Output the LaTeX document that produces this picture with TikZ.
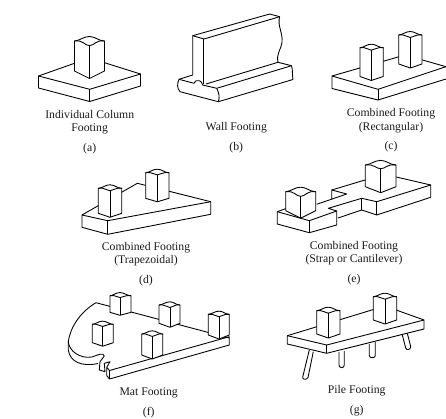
\documentclass[tikz,border=0pt]{standalone}
\usepackage{fontspec}
\setmainfont{Liberation Serif}
\usetikzlibrary{positioning}
\definecolor{figink}{HTML}{1a1a1a}
\newcommand{\pillar}[6]{% left, mid, right, top, bottom, dip
  \pgfmathsetmacro{\pw}{#3-#1}
  \pgfmathsetmacro{\pdip}{.62*#6}
  \filldraw[edge,fill=white] (#1,#4)
    .. controls ({#1+.2*\pw},{#4-.02*\pw}) and ({#2-.2*\pw},{#4-.15*\pw}) .. (#2,{#4-.15*\pw})
    .. controls ({#2+.2*\pw},{#4-.15*\pw}) and ({#3-.2*\pw},#4) .. (#3,#4)
    -- (#3,#5) -- (#2,{#5+#6}) -- (#1,#5) -- cycle;
  \draw[edge] (#1,#4)
    .. controls ({#1+.3*\pw},{#4-.04*\pw}) and ({#2-.16*\pw},{#4+\pdip}) .. (#2,{#4+\pdip})
    .. controls ({#2+.16*\pw},{#4+\pdip}) and ({#3-.3*\pw},{#4-.04*\pw}) .. (#3,#4);
  \draw[edge] (#2,{#4+\pdip}) -- (#2,{#5+#6});
}
\begin{document}
\begin{tikzpicture}[
  x=0.03cm, y=-0.03cm,
  edge/.style={draw=black, line width=0.75pt, line join=round},
  caption/.style={text=figink, font=\fontsize{10}{11.2}\selectfont, align=center, inner sep=0},
  tag/.style={caption, below=7.5pt}
]
\useasboundingbox (0,0) rectangle (446,419);

% (a) individual column
\draw[edge] (38.5,76) -- (89.5,58) -- (140.5,74) -- (140.5,86) -- (89.7,101.5) -- (38.5,88) -- cycle;
\draw[edge] (38.5,76) -- (89.7,89.3) -- (140.5,74);
\draw[edge] (89.7,89.3) -- (89.7,101.5);
\pillar{74.5}{89.5}{104.5}{41}{71}{7.5}
\node[caption] (capa) at (89.7,122.5) {Individual Column\\Footing};
\node[tag] (taga) at (capa.south) {(a)};

% (b) wall
\draw[edge] (192.7,75) -- (192.7,35.7) -- (269.7,14) -- (279.7,16.7);
\draw[edge] (192.7,35.7) -- (204,39) -- (279.7,16.7);
\draw[edge] (203.5,39) -- (203.5,84);
\draw[edge] (279.7,16.7) .. controls (277,25) and (283,33) .. (282,42) .. controls (281,50) and (276,54) .. (278,62.3) -- (291.5,65.7);
\draw[edge] (206,84) -- (278,62.3);
\draw[edge] (179,79.3) -- (192.7,75);
\draw[edge] (179,79.3) .. controls (177,84) and (177,88) .. (180,91.7) -- (218.3,101.7) -- (293,79.5);
\draw[edge] (179,79.3) -- (194,83.3) .. controls (195,81) and (196,80.7) .. (197,80.7) -- (199.5,80.7) .. controls (201,81) and (202,83) .. (202.7,85) -- (216.7,88.3) -- (291.5,65.7);
\draw[edge] (291.5,65.7) .. controls (293,70) and (292,75) .. (293,79.5);
\draw[edge] (216.7,88.3) .. controls (219,93) and (220,97) .. (218.3,101.7);
\node[caption] (capb) at (236.3,128) {Wall Footing};
\node[tag] (tagb) at (capb.south) {(b)};

% (c) combined, rectangular
\draw[edge] (446,66.7) -- (405,55) -- (332,76) -- (332,88.5) -- (378,100) -- (446,79);
\draw[edge] (332,76) -- (378,89.3) -- (446,66.7);
\draw[edge] (378,89.3) -- (378,100);
\pillar{360}{371.3}{383.3}{47.7}{76.5}{4}
\pillar{398.7}{410.3}{422}{35}{64}{4}
\node[caption] (capc) at (391,120.7) {Combined Footing\\(Rectangular)};
\node[tag] (tagc) at (capc.south) {(c)};

% (d) combined, trapezoidal
\draw[edge] (82,215) -- (137.3,183.3) -- (210.7,201.7) -- (210.7,214.3) -- (107.7,234.3) -- (82,227.3) -- cycle;
\draw[edge] (82,215) -- (107.7,220.7) -- (210.7,201.7);
\draw[edge] (107.7,220.7) -- (107.7,234.3);
\pillar{98.3}{110}{121.7}{188.3}{213.3}{4}
\pillar{145.7}{157.3}{169}{172.7}{198.3}{3.5}
\node[caption] (capd) at (146,254) {Combined Footing\\(Trapezoidal)};
\node[tag] (tagd) at (capd.south) {(d)};

% (e) combined, strap
\draw[edge] (316.7,204.3) -- (346.7,194) -- (331.7,190) -- (331.7,199);
\draw[edge] (331.7,190) -- (375,177);
\draw[edge] (277.3,211.7) -- (290,207);
\draw[edge] (277.3,211.7) -- (277.3,224) -- (309.3,232.7) -- (336.7,225) -- (336.7,211) -- (328.3,208.3) -- (361.7,198.3) -- (376.7,201.7) -- (430.7,185) -- (430.7,197.3) -- (376.7,215) -- (361.7,210) -- (338,218);
\draw[edge] (277.3,211.7) -- (309.3,220.7) -- (336.7,211);
\draw[edge] (309.3,220.7) -- (309.3,232.7);
\draw[edge] (361.7,198.3) -- (361.7,210);
\draw[edge] (376.7,201.7) -- (376.7,215);
\draw[edge] (392,176) -- (430.7,185);
\pillar{285.7}{300.7}{315.7}{191.7}{210.7}{7.5}
\pillar{365.3}{380.7}{396}{165}{186.7}{6}
\node[caption] (cape) at (354,253) {Combined Footing\\(Strap or Cantilever)};
\node[tag] (tage) at (cape.south) {(e)};

% (f) mat
\draw[edge] (229.3,338) -- (96,302.7) .. controls (80,312) and (70,328) .. (68.3,341.7)
  .. controls (69,351) and (80,359) .. (92,357) .. controls (98,355) and (103,352) .. (104.3,356) -- (100,361.7) -- (99.3,370) -- (105,371.7) -- (104.3,363.3) -- (110,361.7) -- (106.7,367.3) -- (106.7,375.5) -- (109.5,379) -- (229.3,345) -- (229.3,336.7) -- (109.5,370.5) -- (106.7,367.3);
\draw[edge] (68.3,341.7) -- (68.3,350) .. controls (70,362) and (82,367) .. (98,363.5);
\draw[edge] (109.5,370.5) -- (109.5,379);
\pillar{110}{120}{131}{295.7}{312.3}{3}
\pillar{159}{170}{180}{305}{323.3}{4}
\pillar{208.3}{219}{229.3}{314.3}{335}{4}
\pillar{92.3}{102.7}{113.3}{324.3}{342.7}{3.5}
\pillar{141.7}{152.3}{162.7}{334}{355}{4}
\node[caption] (capf) at (148.7,392.5) {Mat Footing};
\node[tag] (tagf) at (capf.south) {(f)};

% (g) pile, legs first
\draw[edge] (309.3,350) -- (302.7,377) .. controls (302,380) and (307,380) .. (308,377.5) -- (313.3,351.7);
\draw[edge] (339,352) -- (339,365) .. controls (339,368.5) and (344.3,368.5) .. (344.3,365) -- (344.3,351);
\draw[edge] (369.3,344) -- (369.3,355.5) .. controls (369.3,358.5) and (375.3,358.5) .. (375.3,355.5) -- (375.3,342);
\draw[edge] (402.3,335) -- (405.7,348) .. controls (406.5,351) and (411,349.5) .. (410.7,346.5) -- (407.3,333.3);
\draw[edge] (287.3,335.7) -- (385,306) -- (424,320) -- (424,329) -- (326.7,353.3) -- (287.3,344) -- cycle;
\draw[edge] (287.3,335.7) -- (326.7,345) -- (424,320);
\draw[edge] (326.7,345) -- (326.7,353.3);
\pillar{316.7}{328.3}{340}{310.7}{334}{4}
\pillar{373.3}{385}{396.7}{296.7}{320}{4}
\node[caption] (capg) at (356.7,391) {Pile Footing};
\node[tag] (tagg) at (capg.south) {(g)};
\end{tikzpicture}
\end{document}
